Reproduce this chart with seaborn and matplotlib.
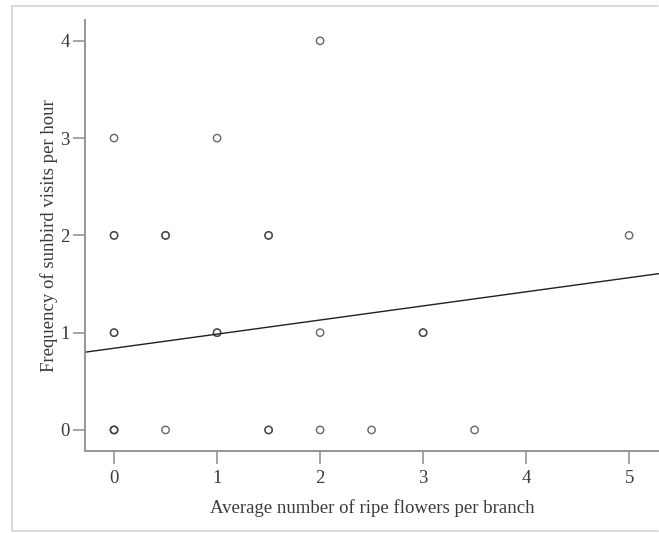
import numpy as np
import pandas as pd
import seaborn as sns
from matplotlib import pyplot as plt
from matplotlib.lines import Line2D

# observations (repeated rows = overlapping points, drawn darker)
flowers = [0, 1, 2,
           0, 0, 0.5, 0.5, 1.5, 1.5, 5,
           0, 0, 1, 1, 2, 3, 3,
           0, 0, 0, 0.5, 1.5, 1.5, 2, 2.5, 3.5]
visits = [3, 3, 4,
          2, 2, 2, 2, 2, 2, 2,
          1, 1, 1, 1, 1, 1, 1,
          0, 0, 0, 0, 0, 0, 0, 0, 0]

# fitted linear trend
fit_intercept = 0.84
fit_slope = 0.145

x_ticks = [0, 1, 2, 3, 4, 5]
y_ticks = [0, 1, 2, 3, 4]

df = pd.DataFrame({'flowers': flowers, 'visits': visits})

sns.set_style('white')
plt.rcParams['font.family'] = ['Liberation Serif', 'DejaVu Serif']

text_col = '#3a3a3a'
spine_col = '#8c8c8c'

fig = plt.figure(figsize=(6.59, 5.33), dpi=100)
ax = fig.add_axes([0.129, 0.153, 0.871, 0.8095])

sns.scatterplot(data=df, x='flowers', y='visits', ax=ax, marker='o', s=28,
                facecolor='none', edgecolor='#404040', linewidth=1.0, alpha=0.8)
ax.axline((0, fit_intercept), slope=fit_slope, color='#202020', lw=1.0)

ax.set_xlim(-0.282, 5.29)
ax.set_ylim(-0.221, 4.214)
ax.set_xticks(x_ticks)
ax.set_yticks(y_ticks)

for side in ['top', 'right']:
    ax.spines[side].set_visible(False)
for side in ['left', 'bottom']:
    ax.spines[side].set_color(spine_col)
    ax.spines[side].set_linewidth(1.3)

ax.tick_params(axis='both', direction='out', length=9, width=1.1, color=spine_col,
               labelsize=13.5, labelcolor=text_col, pad=2, left=True, bottom=True)
ax.tick_params(axis='x', pad=4)

ax.set_xlabel('Average number of ripe flowers per branch', fontsize=13.5, color=text_col, labelpad=9)
ax.set_ylabel('Frequency of sunbird visits per hour', fontsize=13.5, color=text_col, labelpad=2)

# thin frame of the original picture (left, top, bottom only)
W, H = 659, 533
frame_x = [658 / W, 12 / W, 12 / W, 658 / W]
frame_y = [1 - 6 / H, 1 - 6 / H, 1 - 531 / H, 1 - 531 / H]
fig.add_artist(Line2D(frame_x, frame_y, transform=fig.transFigure,
                      color='#d4d4d4', lw=1.2))

plt.savefig('out.png', dpi=100)
